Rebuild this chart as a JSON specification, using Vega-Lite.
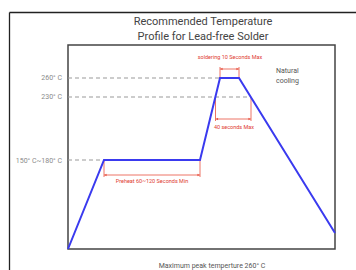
{
  "$schema": "https://vega.github.io/schema/vega-lite/v6.json",
  "width": 267,
  "height": 204,
  "autosize": {"type": "none"},
  "padding": {"left": 68, "top": 45, "right": 21, "bottom": 21},
  "background": "white",
  "view": {"stroke": "#444", "strokeWidth": 1.5},
  "config": {"font": "Roboto", "text": {"font": "Roboto"}},
  "datasets": {
    "profile": [
      {"t": 0, "temp": 0},
      {"t": 36, "temp": 89},
      {"t": 132, "temp": 89},
      {"t": 152, "temp": 171},
      {"t": 171, "temp": 171},
      {"t": 267, "temp": 16}
    ],
    "guides": [
      {"t": 0, "t2": 152, "temp": 171},
      {"t": 0, "t2": 183, "temp": 152},
      {"t": 0, "t2": 36, "temp": 89}
    ],
    "brackets": [
      {"t": 152, "t2": 152, "temp": 171, "temp2": 182},
      {"t": 171, "t2": 171, "temp": 171, "temp2": 182},
      {"t": 152, "t2": 171, "temp": 180, "temp2": 180},
      {"t": 147.5, "t2": 147.5, "temp": 152, "temp2": 128},
      {"t": 183, "t2": 183, "temp": 152, "temp2": 128},
      {"t": 147.5, "t2": 183, "temp": 130, "temp2": 130},
      {"t": 36, "t2": 36, "temp": 89, "temp2": 72},
      {"t": 132, "t2": 132, "temp": 89, "temp2": 72},
      {"t": 36, "t2": 132, "temp": 74, "temp2": 74}
    ],
    "arrowsL": [
      {"t": 153.5, "temp": 180},
      {"t": 149, "temp": 130},
      {"t": 37.5, "temp": 74}
    ],
    "arrowsR": [
      {"t": 169.5, "temp": 180},
      {"t": 181.5, "temp": 130},
      {"t": 130.5, "temp": 74}
    ],
    "redText": [
      {"t": 162, "temp": 192, "label": "soldering 10 Seconds Max"},
      {"t": 166, "temp": 122, "label": "40 seconds Max"},
      {"t": 84, "temp": 68, "label": "Preheat 60~120 Seconds Min"}
    ],
    "yLabels": [
      {"t": -6, "temp": 171, "label": "260° C"},
      {"t": -6, "temp": 152, "label": "230° C"},
      {"t": -6, "temp": 88, "label": "150° C~180° C"}
    ],
    "titleText": [
      {"t": 135, "temp": 227, "label": "Recommended Temperature"},
      {"t": 135, "temp": 212, "label": "Profile for Lead-free Solder"}
    ],
    "noteText": [
      {"t": 208, "temp": 178, "label": "Natural"},
      {"t": 208, "temp": 168, "label": "cooling"}
    ],
    "footText": [
      {"t": 144, "temp": -17, "label": "Maximum peak temperture 260° C"}
    ],
    "frame": [
      {"t": -58.5, "t2": -58.5, "temp": 236.5, "temp2": -40},
      {"t": -58.5, "t2": 300, "temp": 236.5, "temp2": 236.5}
    ]
  },
  "layer": [
    {
      "data": {"name": "frame"},
      "mark": {"type": "rule", "color": "#222", "strokeWidth": 1.3},
      "encoding": {
        "x": {"field": "t", "type": "quantitative", "scale": {"domain": [0, 267], "nice": false, "zero": false}, "axis": null},
        "x2": {"field": "t2"},
        "y": {"field": "temp", "type": "quantitative", "scale": {"domain": [0, 204], "nice": false, "zero": false}, "axis": null},
        "y2": {"field": "temp2"}
      }
    },
    {
      "data": {"name": "guides"},
      "mark": {"type": "rule", "color": "#999", "strokeWidth": 1, "strokeDash": [4, 3]},
      "encoding": {
        "x": {"field": "t", "type": "quantitative"},
        "x2": {"field": "t2"},
        "y": {"field": "temp", "type": "quantitative"}
      }
    },
    {
      "data": {"name": "brackets"},
      "mark": {"type": "rule", "color": "#e8503f", "strokeWidth": 0.8},
      "encoding": {
        "x": {"field": "t", "type": "quantitative"},
        "x2": {"field": "t2"},
        "y": {"field": "temp", "type": "quantitative"},
        "y2": {"field": "temp2"}
      }
    },
    {
      "data": {"name": "arrowsL"},
      "mark": {"type": "point", "shape": "triangle-left", "filled": true, "color": "#e8503f", "size": 6, "opacity": 1},
      "encoding": {
        "x": {"field": "t", "type": "quantitative"},
        "y": {"field": "temp", "type": "quantitative"}
      }
    },
    {
      "data": {"name": "arrowsR"},
      "mark": {"type": "point", "shape": "triangle-right", "filled": true, "color": "#e8503f", "size": 6, "opacity": 1},
      "encoding": {
        "x": {"field": "t", "type": "quantitative"},
        "y": {"field": "temp", "type": "quantitative"}
      }
    },
    {
      "data": {"name": "profile"},
      "mark": {"type": "line", "color": "#3a3aef", "strokeWidth": 2},
      "encoding": {
        "x": {"field": "t", "type": "quantitative"},
        "y": {"field": "temp", "type": "quantitative"}
      }
    },
    {
      "data": {"name": "redText"},
      "mark": {"type": "text", "color": "#e03a30", "fontSize": 5.5, "font": "Roboto", "align": "center", "baseline": "middle"},
      "encoding": {
        "x": {"field": "t", "type": "quantitative"},
        "y": {"field": "temp", "type": "quantitative"},
        "text": {"field": "label"}
      }
    },
    {
      "data": {"name": "yLabels"},
      "mark": {"type": "text", "color": "#8a8a8a", "fontSize": 7, "font": "Roboto", "align": "right", "baseline": "middle"},
      "encoding": {
        "x": {"field": "t", "type": "quantitative"},
        "y": {"field": "temp", "type": "quantitative"},
        "text": {"field": "label"}
      }
    },
    {
      "data": {"name": "titleText"},
      "mark": {"type": "text", "color": "#444", "fontSize": 11, "font": "Roboto", "align": "center", "baseline": "middle"},
      "encoding": {
        "x": {"field": "t", "type": "quantitative"},
        "y": {"field": "temp", "type": "quantitative"},
        "text": {"field": "label"}
      }
    },
    {
      "data": {"name": "noteText"},
      "mark": {"type": "text", "color": "#555", "fontSize": 7, "font": "Roboto", "align": "left", "baseline": "middle"},
      "encoding": {
        "x": {"field": "t", "type": "quantitative"},
        "y": {"field": "temp", "type": "quantitative"},
        "text": {"field": "label"}
      }
    },
    {
      "data": {"name": "footText"},
      "mark": {"type": "text", "color": "#555", "fontSize": 7, "font": "Roboto", "align": "center", "baseline": "middle"},
      "encoding": {
        "x": {"field": "t", "type": "quantitative"},
        "y": {"field": "temp", "type": "quantitative"},
        "text": {"field": "label"}
      }
    }
  ]
}
